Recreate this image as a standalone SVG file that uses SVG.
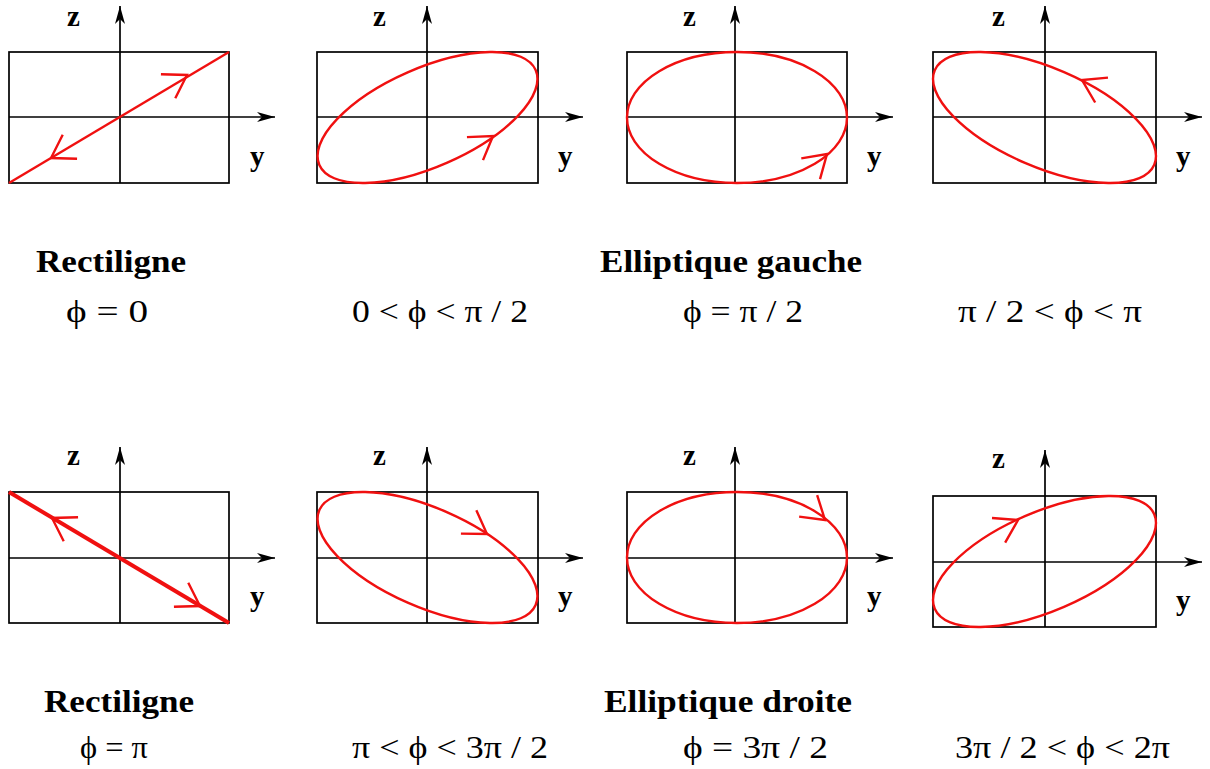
<svg xmlns="http://www.w3.org/2000/svg" xmlns:xlink="http://www.w3.org/1999/xlink" width="1210" height="769" viewBox="0 0 1210 769">
<style>
.frame{fill:none;stroke:#000;stroke-width:1.7}
.axis{fill:none;stroke:#000;stroke-width:1.7;marker-end:url(#ah)}
.curve{fill:none;stroke:#f01010;stroke-width:2.4}
.thick{stroke-width:4}
.chev{fill:none;stroke:#f01010;stroke-width:2.4}
.ax{font-family:"Liberation Serif",serif;font-weight:bold;font-size:29px;fill:#000}
.title{font-family:"Liberation Serif",serif;font-weight:bold;font-size:31px;fill:#000}
.math{font-family:"Liberation Serif",serif;font-size:32px;fill:#000}
</style>
<defs>
<marker id="ah" markerUnits="userSpaceOnUse" markerWidth="24" markerHeight="14" refX="0" refY="0" viewBox="-20 -7 24 14" orient="auto">
<path d="M0,0 L-18,-5 L-13,0 L-18,5 Z" fill="#000"/>
</marker>
<path id="chev" d="M-22,-14 L0,0 L-22,14"/>
</defs>
<rect width="1210" height="769" fill="#fff"/>

<g id="p1">
<rect class="frame" x="9" y="52" width="220" height="131"/>
<line class="axis" x1="9" y1="117" x2="275" y2="117"/>
<line class="axis" x1="120" y1="183" x2="120" y2="6"/>
<text class="ax" x="67" y="26">z</text>
<text class="ax" x="250" y="166">y</text>
<line class="curve" x1="9" y1="183" x2="229" y2="52"/>
<use xlink:href="#chev" class="chev" transform="translate(187,75) rotate(-30.8)"/>
<use xlink:href="#chev" class="chev" transform="translate(51,158) rotate(149.2)"/>
</g>

<g id="p2">
<rect class="frame" x="317" y="52" width="221" height="131"/>
<line class="axis" x1="317" y1="117" x2="583" y2="117"/>
<line class="axis" x1="427" y1="183" x2="427" y2="6"/>
<text class="ax" x="373" y="26">z</text>
<text class="ax" x="558" y="166">y</text>
<ellipse class="curve" cx="427.5" cy="117.5" rx="118.1" ry="49.3" transform="rotate(-23.7 427.5 117.5)"/>
<use xlink:href="#chev" class="chev" transform="translate(493,136) rotate(-35)"/>
</g>

<g id="p3">
<rect class="frame" x="627" y="52" width="220" height="131"/>
<line class="axis" x1="627" y1="117" x2="893" y2="117"/>
<line class="axis" x1="735" y1="183" x2="735" y2="6"/>
<text class="ax" x="683" y="26">z</text>
<text class="ax" x="867" y="166">y</text>
<ellipse class="curve" cx="737" cy="117.5" rx="110" ry="65.5"/>
<use xlink:href="#chev" class="chev" transform="translate(827,154) rotate(-42)"/>
</g>

<g id="p4">
<rect class="frame" x="933" y="52" width="223" height="131"/>
<line class="axis" x1="933" y1="117" x2="1202" y2="117"/>
<line class="axis" x1="1045" y1="183" x2="1045" y2="6"/>
<text class="ax" x="992" y="26">z</text>
<text class="ax" x="1176" y="166">y</text>
<ellipse class="curve" cx="1044.5" cy="117.5" rx="119.5" ry="49.4" transform="rotate(23.3 1044.5 117.5)"/>
<use xlink:href="#chev" class="chev" transform="translate(1082,80) rotate(-152.8)"/>
</g>

<g id="p5">
<rect class="frame" x="9" y="492" width="220" height="131"/>
<line class="axis" x1="9" y1="558" x2="275" y2="558"/>
<line class="axis" x1="120" y1="623" x2="120" y2="447"/>
<text class="ax" x="67" y="465">z</text>
<text class="ax" x="250" y="606">y</text>
<line class="curve thick" x1="9" y1="492" x2="229" y2="623"/>
<use xlink:href="#chev" class="chev" transform="translate(52,518) rotate(-149.2)"/>
<use xlink:href="#chev" class="chev" transform="translate(200,606) rotate(30.8)"/>
</g>

<g id="p6">
<rect class="frame" x="317" y="492" width="221" height="131"/>
<line class="axis" x1="317" y1="558" x2="583" y2="558"/>
<line class="axis" x1="427" y1="623" x2="427" y2="447"/>
<text class="ax" x="373" y="465">z</text>
<text class="ax" x="558" y="606">y</text>
<ellipse class="curve" cx="427.5" cy="557.5" rx="118.1" ry="49.3" transform="rotate(23.7 427.5 557.5)"/>
<use xlink:href="#chev" class="chev" transform="translate(487,534) rotate(33.4)"/>
</g>

<g id="p7">
<rect class="frame" x="627" y="492" width="220" height="131"/>
<line class="axis" x1="627" y1="558" x2="893" y2="558"/>
<line class="axis" x1="735" y1="623" x2="735" y2="447"/>
<text class="ax" x="683" y="465">z</text>
<text class="ax" x="867" y="606">y</text>
<ellipse class="curve" cx="737" cy="557.5" rx="110" ry="65.5"/>
<use xlink:href="#chev" class="chev" transform="translate(825,520) rotate(40)"/>
</g>

<g id="p8">
<rect class="frame" x="933" y="496" width="223" height="131"/>
<line class="axis" x1="933" y1="562" x2="1202" y2="562"/>
<line class="axis" x1="1045" y1="627" x2="1045" y2="450"/>
<text class="ax" x="992" y="468">z</text>
<text class="ax" x="1176" y="610">y</text>
<ellipse class="curve" cx="1044.5" cy="561.5" rx="119.5" ry="49.4" transform="rotate(-23.3 1044.5 561.5)"/>
<use xlink:href="#chev" class="chev" transform="translate(1018,520) rotate(-28)"/>
</g>

<g id="labels">
<text class="title" x="36" y="272" textLength="150" lengthAdjust="spacingAndGlyphs">Rectiligne</text>
<text class="math" x="66" y="322" textLength="82" lengthAdjust="spacingAndGlyphs">ϕ = 0</text>
<text class="math" x="352" y="322" textLength="176" lengthAdjust="spacingAndGlyphs">0 &lt; ϕ &lt; π / 2</text>
<text class="title" x="600" y="272" textLength="262" lengthAdjust="spacingAndGlyphs">Elliptique gauche</text>
<text class="math" x="683" y="322" textLength="120" lengthAdjust="spacingAndGlyphs">ϕ = π / 2</text>
<text class="math" x="958" y="322" textLength="184" lengthAdjust="spacingAndGlyphs">π / 2 &lt; ϕ &lt; π</text>
<text class="title" x="44" y="712" textLength="150" lengthAdjust="spacingAndGlyphs">Rectiligne</text>
<text class="math" x="80" y="758" textLength="68" lengthAdjust="spacingAndGlyphs">ϕ = π</text>
<text class="math" x="352" y="758" textLength="196" lengthAdjust="spacingAndGlyphs">π &lt; ϕ &lt; 3π / 2</text>
<text class="title" x="604" y="712" textLength="248" lengthAdjust="spacingAndGlyphs">Elliptique droite</text>
<text class="math" x="683" y="758" textLength="145" lengthAdjust="spacingAndGlyphs">ϕ = 3π / 2</text>
<text class="math" x="955" y="758" textLength="215" lengthAdjust="spacingAndGlyphs">3π / 2 &lt; ϕ &lt; 2π</text>
</g>
</svg>
